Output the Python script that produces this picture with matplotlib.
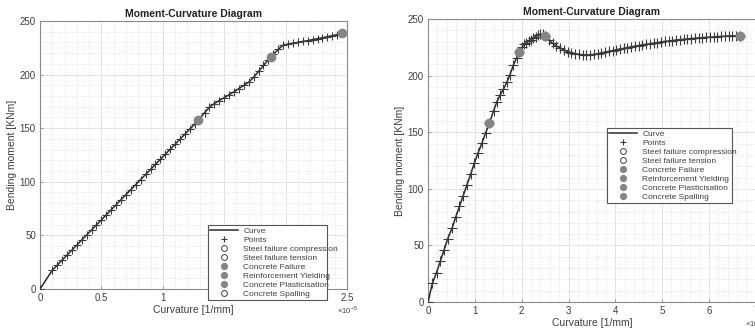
"""
Moment-curvature diagrams, two sections side by side.
"""
import matplotlib
matplotlib.use('Agg')
import matplotlib.pyplot as plt
from matplotlib.ticker import MultipleLocator, FuncFormatter

plt.rcParams['font.family'] = ['Liberation Sans', 'DejaVu Sans']
plt.rcParams['mathtext.fontset'] = 'custom'
plt.rcParams['mathtext.rm'] = 'Liberation Sans'

# curvature values are in units of 1e-5 1/mm (shown by the x10^-5 label)

# left section
curv_a = [0.00, 0.10, 0.14, 0.18, 0.22, 0.26, 0.30, 0.34, 0.38, 0.42,
          0.46, 0.50, 0.54, 0.58, 0.62, 0.66, 0.70, 0.74, 0.78, 0.82,
          0.86, 0.90, 0.94, 0.98, 1.02, 1.06, 1.10, 1.14, 1.18, 1.22,
          1.26, 1.29, 1.34, 1.38, 1.42, 1.46, 1.50, 1.54, 1.58, 1.62,
          1.66, 1.70, 1.74, 1.78, 1.82, 1.86, 1.88, 1.90, 1.94, 1.98,
          2.02, 2.06, 2.10, 2.14, 2.18, 2.22, 2.26, 2.30, 2.34, 2.38,
          2.42, 2.46]
moment_a = [0.0, 17.5, 22.2, 26.9, 31.6, 36.3, 41.0, 45.7, 50.4, 55.1,
            59.8, 64.5, 69.2, 73.9, 78.6, 83.3, 88.0, 92.7, 97.4, 102.1,
            106.8, 111.5, 116.2, 120.9, 125.6, 130.3, 135.0, 139.7, 144.4, 149.1,
            153.8, 157.6, 164.5, 169.5, 173.0, 175.8, 178.5, 181.2, 184.0, 187.0,
            190.0, 193.0, 197.5, 203.0, 208.5, 214.0, 216.5, 219.0, 223.5, 227.5,
            228.5, 229.3, 230.1, 230.9, 231.7, 232.6, 233.5, 234.4, 235.3, 236.3,
            237.3, 238.5]
events_a = {
    'Concrete Failure': (2.46, 238.5),
    'Reinforcement Yielding': (1.88, 216.5),
    'Concrete Plasticisation': (1.29, 157.6),
    'Concrete Spalling': None,
}

# right section
curv_b = [0.00, 0.09, 0.18, 0.26, 0.34, 0.42, 0.51, 0.59, 0.67, 0.75,
          0.83, 0.91, 0.99, 1.07, 1.15, 1.23, 1.31, 1.40, 1.47, 1.54,
          1.61, 1.68, 1.75, 1.82, 1.89, 1.95, 2.00, 2.05, 2.10, 2.15,
          2.20, 2.25, 2.30, 2.35, 2.40, 2.45, 2.50, 2.58, 2.66, 2.74,
          2.82, 2.90, 2.98, 3.06, 3.14, 3.22, 3.30, 3.38, 3.46, 3.54,
          3.62, 3.70, 3.78, 3.86, 3.94, 4.02, 4.10, 4.18, 4.26, 4.34,
          4.42, 4.50, 4.58, 4.66, 4.74, 4.82, 4.90, 4.98, 5.06, 5.14,
          5.22, 5.30, 5.38, 5.46, 5.54, 5.62, 5.70, 5.78, 5.86, 5.94,
          6.02, 6.10, 6.18, 6.26, 6.34, 6.42, 6.50, 6.58, 6.66]
moment_b = [0.0, 16.5, 26.0, 36.0, 46.0, 56.0, 65.0, 75.0, 84.5, 94.0,
            103.5, 113.0, 123.0, 132.0, 140.5, 149.5, 158.0, 169.0, 177.0, 183.0,
            188.0, 194.0, 201.0, 209.0, 215.5, 221.0, 225.0, 227.5, 229.0, 230.5,
            231.8, 233.0, 234.5, 235.8, 236.5, 236.6, 235.3, 231.5, 228.5, 226.3,
            224.5, 222.8, 221.3, 220.2, 219.4, 218.8, 218.4, 218.2, 218.3, 218.7,
            219.3, 220.0, 220.7, 221.4, 222.1, 222.8, 223.5, 224.1, 224.8, 225.4,
            226.0, 226.6, 227.2, 227.7, 228.2, 228.7, 229.2, 229.7, 230.2, 230.6,
            231.0, 231.4, 231.8, 232.1, 232.4, 232.7, 233.0, 233.3, 233.5, 233.8,
            234.0, 234.2, 234.4, 234.6, 234.8, 235.0, 235.1, 235.2, 235.3]
events_b = {
    'Concrete Failure': (6.66, 235.3),
    'Reinforcement Yielding': (1.95, 221.0),
    'Concrete Plasticisation': (1.31, 158.0),
    'Concrete Spalling': (2.50, 235.3),
}

TEXT = '#404040'
EDGE = '#8a8a8a'
DOT = '#858585'


def draw(ax, curv, moment, events, xmax, xmajor, xminor, leg_box, ms, exp_y):
    ax.plot(curv, moment, '-', color='#2b2b2b', lw=1.1, label='Curve', zorder=3)
    ax.plot(curv, moment, '+', color='#3a3a3a', ms=ms, mew=0.8,
            label='Points', zorder=3)
    for name in ['Steel failure compression', 'Steel failure tension']:
        ax.plot([], [], 'o', mfc='none', mec=TEXT, mew=0.7, ms=6, label=name)
    for name, pt in events.items():
        if pt is None:
            ax.plot([], [], 'o', mfc='none', mec=TEXT, mew=0.7, ms=6, label=name)
        else:
            ax.plot([pt[0]], [pt[1]], 'o', color=DOT, ms=6,
                    label=name, zorder=4)

    ax.set_xlim(0, xmax)
    ax.set_ylim(0, 250)
    ax.xaxis.set_major_locator(MultipleLocator(xmajor))
    ax.xaxis.set_minor_locator(MultipleLocator(xminor))
    ax.yaxis.set_major_locator(MultipleLocator(50))
    ax.yaxis.set_minor_locator(MultipleLocator(10))
    ax.xaxis.set_major_formatter(FuncFormatter(lambda v, p: f'{v:g}'))
    ax.text(1.0, exp_y, r'$\times10^{-5}$', transform=ax.transAxes,
            ha='center', va='center', fontsize=5.5, color=TEXT)

    ax.grid(True, which='major', color='#dedede', lw=0.6, ls='-')
    ax.grid(True, which='minor', color='#cfcfcf', lw=0.5, ls=(0, (1, 2)))
    ax.set_axisbelow(True)
    for s in ax.spines.values():
        s.set_color(EDGE)
        s.set_linewidth(0.8)
    ax.tick_params(which='both', direction='in', colors=EDGE, labelcolor=TEXT,
                   labelsize=7, length=2.5, width=0.6, pad=3)
    ax.tick_params(which='minor', length=0)

    ax.set_title('Moment-Curvature Diagram', fontsize=7.5, fontweight='bold',
                 color='#222222', pad=3)
    ax.set_xlabel('Curvature [1/mm]', fontsize=7.5, color=TEXT, labelpad=1)
    ax.set_ylabel('Bending moment [KNm]', fontsize=7.5, color=TEXT, labelpad=2)

    leg = ax.legend(loc='upper left', bbox_to_anchor=leg_box, mode='expand',
                    fontsize=6, labelspacing=0.14, handlelength=3.4,
                    handletextpad=0.6, borderpad=0.25, markerscale=0.7,
                    fancybox=False, framealpha=1, borderaxespad=0)
    leg.get_frame().set_edgecolor('#555555')
    leg.get_frame().set_linewidth(0.8)
    leg.set_zorder(10)
    for t in leg.get_texts():
        t.set_color(TEXT)


fig = plt.figure(figsize=(7.55, 3.28), dpi=100)
ax1 = fig.add_axes([0.053, 0.119, 0.4066, 0.817])
ax2 = fig.add_axes([0.567, 0.079, 0.434, 0.863])

draw(ax1, curv_a, moment_a, events_a, 2.5, 0.5, 0.1,
     (0.547, 0.237, 0.388, 0.0), 6, -0.078)
draw(ax2, curv_b, moment_b, events_b, 7, 1, 0.2,
     (0.546, 0.616, 0.38, 0.0), 7, -0.075)

fig.savefig('out.png', dpi=100)
